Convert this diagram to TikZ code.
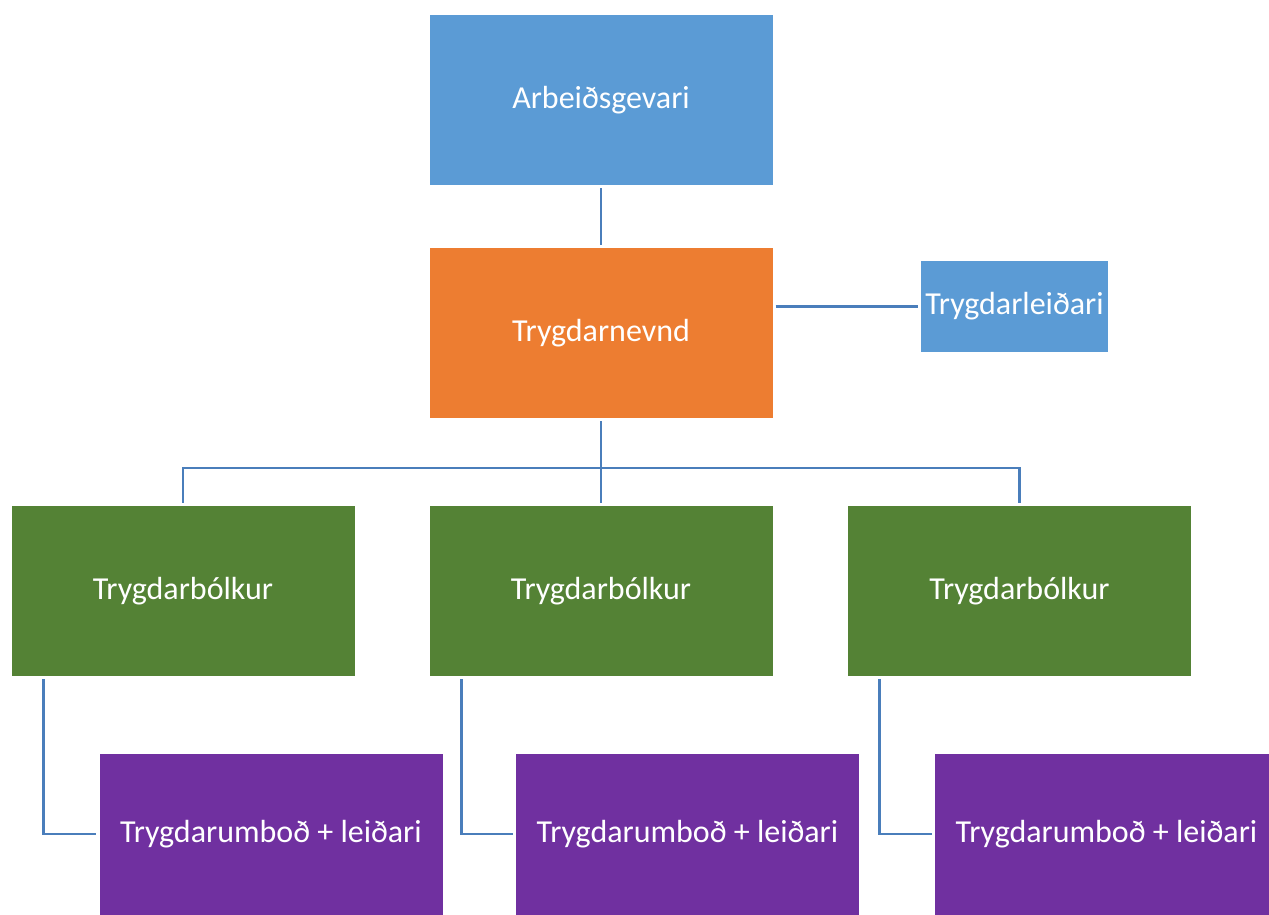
\documentclass[tikz,border=0pt]{standalone}
\usepackage{fontspec}
\setmainfont{Carlito}
\usepackage{tikz}

\definecolor{boxblue}{HTML}{5B9BD5}
\definecolor{boxorange}{HTML}{ED7D31}
\definecolor{boxgreen}{HTML}{548235}
\definecolor{boxpurple}{HTML}{7030A0}
\definecolor{linkblue}{HTML}{4A7EBB}

\begin{document}
\begin{tikzpicture}[x=1pt,y=-1pt,
  unit/.style={shape=rectangle,text=white,font=\fontsize{32}{38}\selectfont,minimum width=343pt,minimum height=170pt,inner sep=0},
  link/.style={draw=linkblue,line width=2.8pt,shorten <=3pt,shorten >=3pt}]
\useasboundingbox (0,0) rectangle (1269,914);
\node[unit,fill=boxblue] (arb) at (601,100) {Arbeiðsgevari};
\node[unit,fill=boxorange] (nevnd) at (601,333) {Trygdarnevnd};
\node[unit,fill=boxblue,minimum width=187pt,minimum height=91pt] (leid) at (1014.5,306.5) {Trygdarleiðari};
\node[unit,fill=boxgreen] (b1) at (183,591) {Trygdarbólkur};
\node[unit,fill=boxgreen] (b2) at (601,591) {Trygdarbólkur};
\node[unit,fill=boxgreen] (b3) at (1019.5,591) {Trygdarbólkur};
\node[unit,fill=boxpurple,minimum height=161pt] (u1) at (271,834) {Trygdarumboð + leiðari};
\node[unit,fill=boxpurple,minimum height=161pt] (u2) at (687.5,834) {Trygdarumboð + leiðari};
\node[unit,fill=boxpurple,minimum height=161pt] (u3) at (1106.5,834) {Trygdarumboð + leiðari};
\coordinate (bus) at (601,468);
\draw[link] (arb) -- (nevnd);
\draw[link] (leid.west -| nevnd.east) -- (leid.west);
\draw[link] (nevnd.south) -- (b2.north);
\draw[link] (b1.north) |- (bus) -| (b3.north);
\draw[link] ([xshift=32pt]b1.south west) |- (u1.west);
\draw[link] ([xshift=32pt]b2.south west) |- (u2.west);
\draw[link] ([xshift=32pt]b3.south west) |- (u3.west);
\end{tikzpicture}
\end{document}
